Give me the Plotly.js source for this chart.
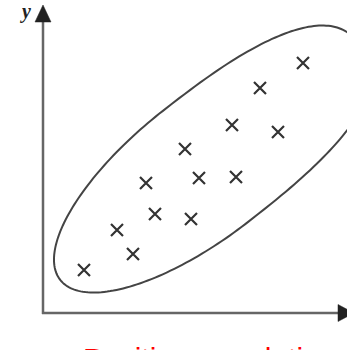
<!DOCTYPE html>
<html>
<head>
<meta charset="utf-8">
<script src="https://cdn.plot.ly/plotly-3.0.1.min.js"></script>
<style>
html,body{margin:0;padding:0;background:#fff;}
#chart{width:347px;height:350px;}
</style>
</head>
<body>
<div id="chart"></div>
<script>
// Data values
const xValues = [41, 74, 90, 103, 112, 142, 148, 156, 189, 193, 217, 235, 260];
const yValues = [43, 83, 59, 130, 99, 164, 94, 135, 188, 136, 225, 181, 250];

// Labels
const yLabel = 'y';
const xLabel = 'x';
const caption = 'Positive correlation';

// Enclosing outline parameters (data units)
const outlineCenter = [163, 147];
const outlineHalfWidth = 70;
const outlineUpperLength = 196;   // toward upper right
const outlineLowerLength = 185;   // toward lower left
const outlineUpperExponent = 2.6;
const outlineLowerExponent = 2.0;
const outlineAngleDeg = 38;

function outlinePath() {
  const th = outlineAngleDeg * Math.PI / 180;
  const [cx, cy] = outlineCenter;
  const b = outlineHalfWidth;
  const N = 240;
  let d = '';
  for (let i = 0; i <= N; i++) {
    const t = 2 * Math.PI * i / N;
    const c = Math.cos(t), s = Math.sin(t);
    const upper = c >= 0;
    const a = upper ? outlineUpperLength : outlineLowerLength;
    const p = 2 / (upper ? outlineUpperExponent : outlineLowerExponent);
    const u = a * Math.sign(c) * Math.pow(Math.abs(c), p);
    const v = b * Math.sign(s) * Math.pow(Math.abs(s), p);
    const x = cx + u * Math.cos(th) - v * Math.sin(th);
    const y = cy + u * Math.sin(th) + v * Math.cos(th);
    d += (i === 0 ? 'M' : 'L') + x.toFixed(2) + ',' + y.toFixed(2);
  }
  return d + 'Z';
}

const trace = {
  type: 'scatter',
  mode: 'markers',
  x: xValues,
  y: yValues,
  marker: {
    symbol: 'x-thin',
    size: 12,
    color: '#333',
    line: {width: 2.2, color: '#333'}
  },
  hoverinfo: 'skip',
  cliponaxis: false
};

const axisLineColor = '#666';
const headColor = '#222';

// axis decorations in paper fractions of the 304x313 plot area
const W = 304, H = 313;
const px = v => v / W;          // horizontal pixels from the y axis -> paper
const py = v => v / H;          // vertical pixels above the x axis -> paper

const layout = {
  width: 347,
  height: 350,
  margin: {l: 43, r: 0, t: 0, b: 37, autoexpand: false},
  paper_bgcolor: '#fff',
  plot_bgcolor: '#fff',
  showlegend: false,
  xaxis: {range: [0, 304], showgrid: false, zeroline: false, showticklabels: false, showline: false, ticks: '', fixedrange: true},
  yaxis: {range: [0, 313], showgrid: false, zeroline: false, showticklabels: false, showline: false, ticks: '', fixedrange: true},
  shapes: [
    {type: 'path', xref: 'x', yref: 'y', path: outlinePath(), line: {color: '#444', width: 2}, fillcolor: 'rgba(0,0,0,0)'},
    // y axis
    {type: 'line', xref: 'paper', yref: 'paper', x0: 0, x1: 0, y0: py(-1), y1: py(292), line: {color: axisLineColor, width: 2.5}},
    {type: 'path', xref: 'paper', yref: 'paper',
     path: 'M' + px(-8) + ',' + py(291) + 'L' + px(8) + ',' + py(291) + 'L' + px(0) + ',' + py(308) + 'Z',
     fillcolor: headColor, line: {color: headColor, width: 0.5}},
    // x axis
    {type: 'line', xref: 'paper', yref: 'paper', x0: px(-1), x1: px(296), y0: 0, y1: 0, line: {color: axisLineColor, width: 2.5}},
    {type: 'path', xref: 'paper', yref: 'paper',
     path: 'M' + px(295) + ',' + py(8.5) + 'L' + px(295) + ',' + py(-8.5) + 'L' + px(311) + ',' + py(0) + 'Z',
     fillcolor: headColor, line: {color: headColor, width: 0.5}}
  ],
  annotations: [
    // axis labels
    {xref: 'paper', yref: 'paper', x: -0.057, y: 0.962, xanchor: 'center', yanchor: 'middle', showarrow: false,
     text: '<b><i>' + yLabel + '</i></b>', font: {family: 'Liberation Serif', size: 20, color: '#222'}},
    {xref: 'paper', yref: 'paper', x: 1.0, y: -0.08, xanchor: 'left', yanchor: 'middle', showarrow: false,
     text: '<b><i>' + xLabel + '</i></b>', font: {family: 'Liberation Serif', size: 18, color: '#222'}},
    // caption (mostly cut off at the bottom edge)
    {xref: 'paper', yref: 'paper', x: 0.126, y: -0.0875, xanchor: 'left', yanchor: 'top', showarrow: false,
     text: caption, font: {family: 'Liberation Sans', size: 30, color: '#ff0000'}}
  ]
};

Plotly.newPlot('chart', [trace], layout, {staticPlot: true, displayModeBar: false});
</script>
</body>
</html>
